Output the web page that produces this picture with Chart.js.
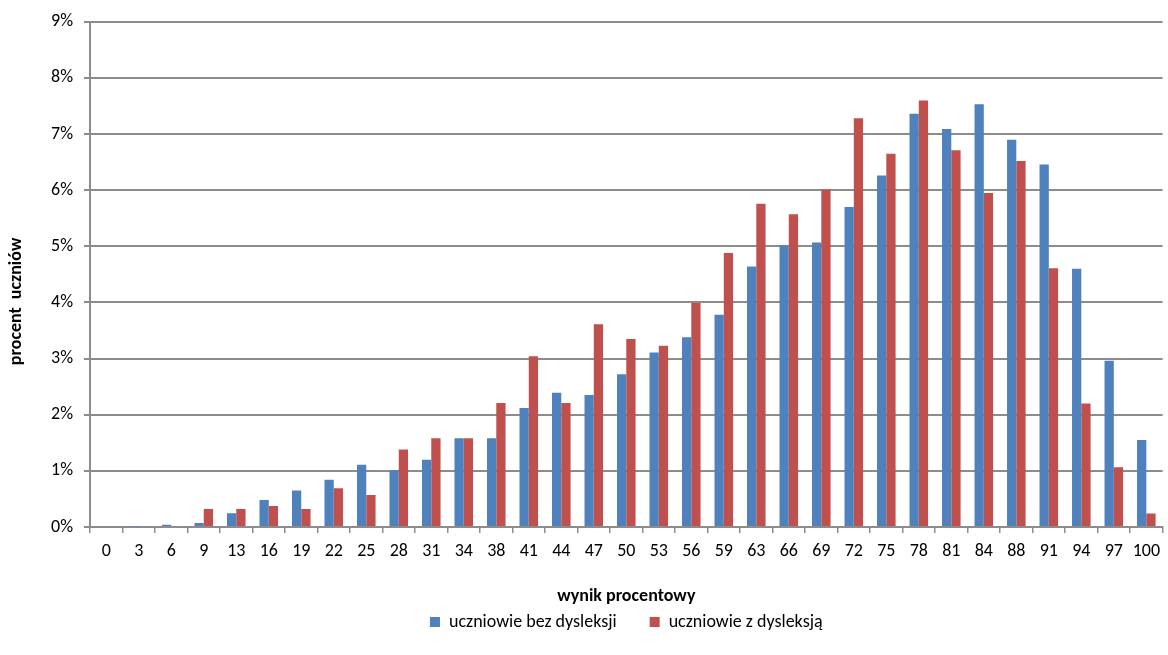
<!DOCTYPE html>
<html>
<head>
<meta charset="utf-8">
<script src="https://cdn.jsdelivr.net/npm/chart.js@4"></script>
<style>
body { margin: 0; background: #fff; }
#wrap { width: 1168px; height: 655px; }
</style>
</head>
<body>
<div id="wrap"><canvas id="myChart" width="1168" height="655"></canvas></div>
<script>
var categories = ['0','3','6','9','13','16','19','22','25','28','31','34','38','41','44','47','50','53','56','59','63','66','69','72','75','78','81','84','88','91','94','97','100']
var bezDysleksji = [0, 0.01, 0.04, 0.07, 0.245, 0.48, 0.65, 0.84, 1.11, 1.01, 1.2, 1.58, 1.58, 2.12, 2.39, 2.35, 2.72, 3.11, 3.38, 3.78, 4.64, 5.02, 5.07, 5.7, 6.26, 7.36, 7.09, 7.53, 6.9, 6.46, 4.6, 2.96, 1.55]
var zDysleksja = [0, 0, 0, 0.32, 0.32, 0.375, 0.32, 0.69, 0.57, 1.38, 1.58, 1.58, 2.21, 3.04, 2.21, 3.61, 3.35, 3.23, 3.99, 4.88, 5.76, 5.57, 6.01, 7.28, 6.65, 7.6, 6.71, 5.95, 6.52, 4.61, 2.2, 1.065, 0.24]
var yTicks = [0, 1, 2, 3, 4, 5, 6, 7, 8, 9]

var font = 'Carlito, Lato, "Liberation Sans", sans-serif'
var gridCol = '#8c8c8c'
var sp = '\u2002'

const ctx = document.getElementById('myChart');
const myChart = new Chart(ctx, {
    type: 'bar',
    data: {
        labels: categories,
        datasets: [{
            label: 'uczniowie bez dysleksji',
            data: bezDysleksji,
            backgroundColor: '#4F81BD',
            borderWidth: 0
        }, {
            label: 'uczniowie z dysleksją',
            data: zDysleksja,
            backgroundColor: '#C0504D',
            borderWidth: 0
        }]
    },
    options: {
        responsive: false,
        animation: false,
        devicePixelRatio: 1,
        layout: { padding: { top: 21, right: 0, left: 0, bottom: 14 } },
        datasets: { bar: { categoryPercentage: 0.571, barPercentage: 1 } },
        plugins: {
            tooltip: { enabled: false },
            legend: {
                position: 'bottom',
                fullSize: false,
                labels: {
                    boxWidth: 10, boxHeight: 10, padding: 6,
                    color: '#000',
                    font: { family: font, size: 18 },
                    generateLabels: function (chart) {
                        var items = Chart.defaults.plugins.legend.labels.generateLabels(chart)
                        // extra gap after the first entry, like the original
                        items[0].text = items[0].text + sp + sp + sp
                        return items
                    }
                }
            }
        },
        scales: {
            x: {
                afterFit: function (s) { s.height = 80 },
                grid: { drawOnChartArea: false, drawTicks: true, tickLength: 6, color: gridCol, lineWidth: 1.5, offset: true },
                border: { color: gridCol, width: 2 },
                ticks: { color: '#000', font: { family: font, size: 18 }, padding: 8, maxRotation: 0, autoSkip: false },
                title: { display: true, text: 'wynik procentowy', color: '#000', font: { family: font, size: 18, weight: 'bold' }, padding: { top: 18, bottom: 0 } }
            },
            y: {
                min: 0, max: 9,
                afterFit: function (s) { s.width = 90 },
                afterBuildTicks: function (s) { s.ticks = yTicks.map(function (v) { return { value: v } }) },
                grid: { color: gridCol, lineWidth: 2, tickLength: 6 },
                border: { color: gridCol, width: 2 },
                ticks: { color: '#000', font: { family: font, size: 18 }, padding: 11, callback: function (v) { return v + '%' } },
                title: { display: true, text: 'procent  uczniów' + sp + sp + sp + sp + sp + sp, color: '#000', font: { family: font, size: 18, weight: 'bold' }, padding: { top: 6, bottom: 6 } }
            }
        }
    }
});
</script>
</body>
</html>
